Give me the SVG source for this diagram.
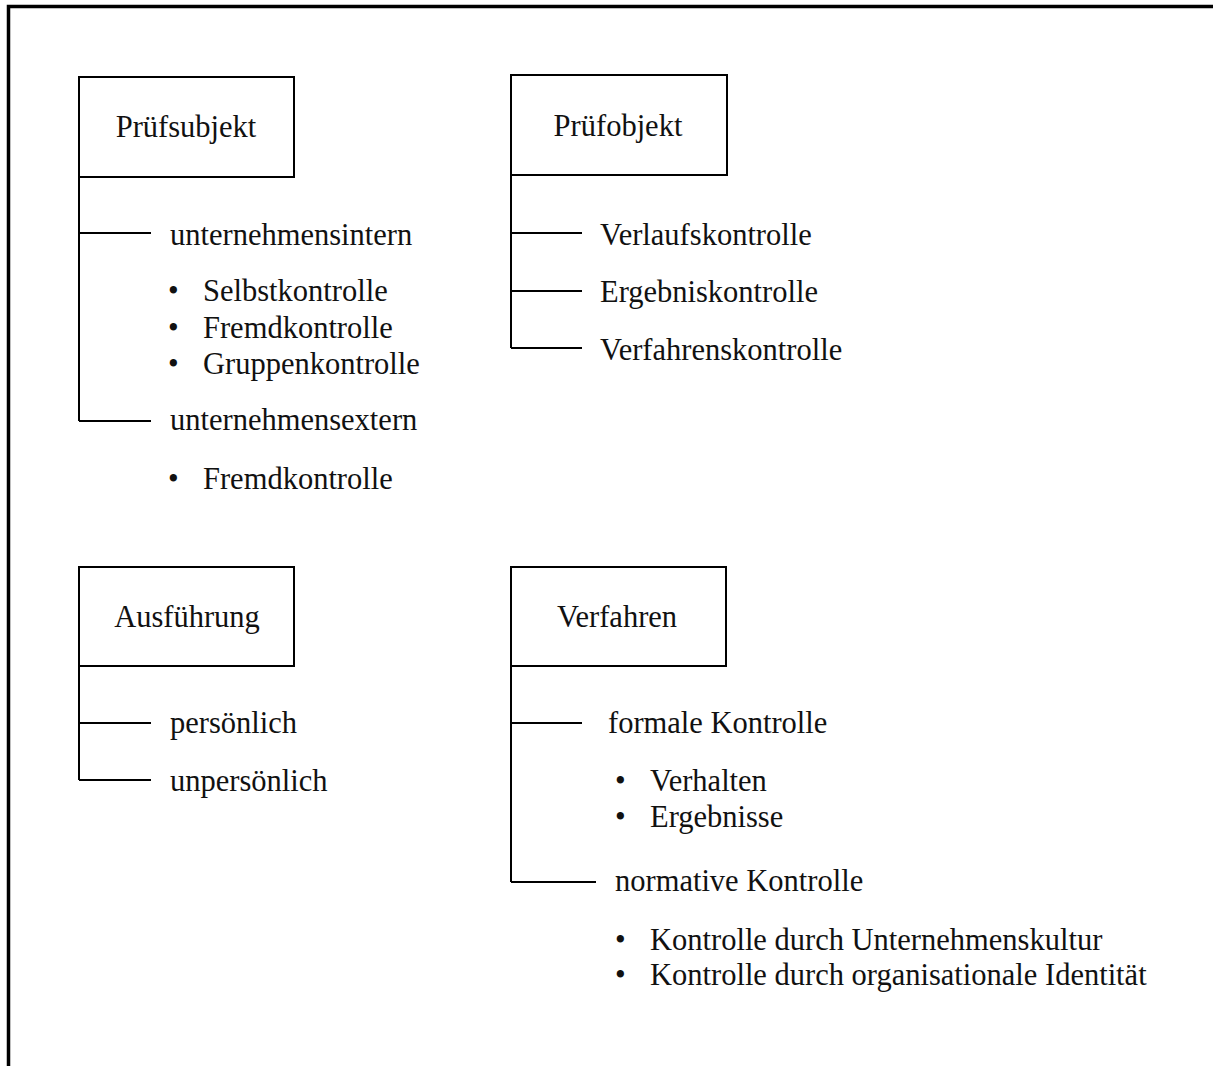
<svg xmlns="http://www.w3.org/2000/svg" width="1213" height="1066" viewBox="0 0 1213 1066">
  <style>
    .box { fill: #ffffff; stroke: #000000; stroke-width: 2; }
    .line { fill: none; stroke: #000000; stroke-width: 2; }
    .frame { fill: none; stroke: #000000; stroke-width: 3.5; }
    text { font-family: "Liberation Serif", "Times New Roman", serif; font-size: 30.5px; fill: #111111; }
    .title { text-anchor: middle; }
  </style>
  <rect x="0" y="0" width="1213" height="1066" fill="#ffffff"/>

  <!-- outer frame (top and left edges) -->
  <path class="frame" d="M8.5,1066 V6.5 H1213"/>

  <!-- connectors -->
  <g id="connectors">
    <path class="line" d="M79,177 V421 M79,233 H151 M79,421 H151"/>
    <path class="line" d="M511,175 V348 M511,233 H582 M511,291 H582 M511,348 H582"/>
    <path class="line" d="M79,666 V780 M79,723 H151 M79,780 H151"/>
    <path class="line" d="M511,666 V882 M511,723 H582 M511,882 H596"/>
  </g>

  <!-- Prüfsubjekt -->
  <g id="pruefsubjekt">
    <rect class="box" x="79" y="77" width="215" height="100"/>
    <text class="title" x="186" y="137">Prüfsubjekt</text>
    <text x="170" y="245">unternehmensintern</text>
    <text x="168" y="301">•</text><text x="203" y="301">Selbstkontrolle</text>
    <text x="168" y="338">•</text><text x="203" y="338">Fremdkontrolle</text>
    <text x="168" y="374">•</text><text x="203" y="374">Gruppenkontrolle</text>
    <text x="170" y="430">unternehmensextern</text>
    <text x="168" y="489">•</text><text x="203" y="489">Fremdkontrolle</text>
  </g>

  <!-- Prüfobjekt -->
  <g id="pruefobjekt">
    <rect class="box" x="511" y="75" width="216" height="100"/>
    <text class="title" x="618" y="136">Prüfobjekt</text>
    <text x="600" y="245">Verlaufskontrolle</text>
    <text x="600" y="302">Ergebniskontrolle</text>
    <text x="600" y="360">Verfahrenskontrolle</text>
  </g>

  <!-- Ausführung -->
  <g id="ausfuehrung">
    <rect class="box" x="79" y="567" width="215" height="99"/>
    <text class="title" x="187" y="627">Ausführung</text>
    <text x="170" y="733">persönlich</text>
    <text x="170" y="791">unpersönlich</text>
  </g>

  <!-- Verfahren -->
  <g id="verfahren">
    <rect class="box" x="511" y="567" width="215" height="99"/>
    <text class="title" x="617" y="627">Verfahren</text>
    <text x="608" y="733">formale Kontrolle</text>
    <text x="615" y="791">•</text><text x="650" y="791">Verhalten</text>
    <text x="615" y="827">•</text><text x="650" y="827">Ergebnisse</text>
    <text x="615" y="891">normative Kontrolle</text>
    <text x="615" y="950">•</text><text x="650" y="950">Kontrolle durch Unternehmenskultur</text>
    <text x="615" y="985">•</text><text x="650" y="985">Kontrolle durch organisationale Identität</text>
  </g>
</svg>
